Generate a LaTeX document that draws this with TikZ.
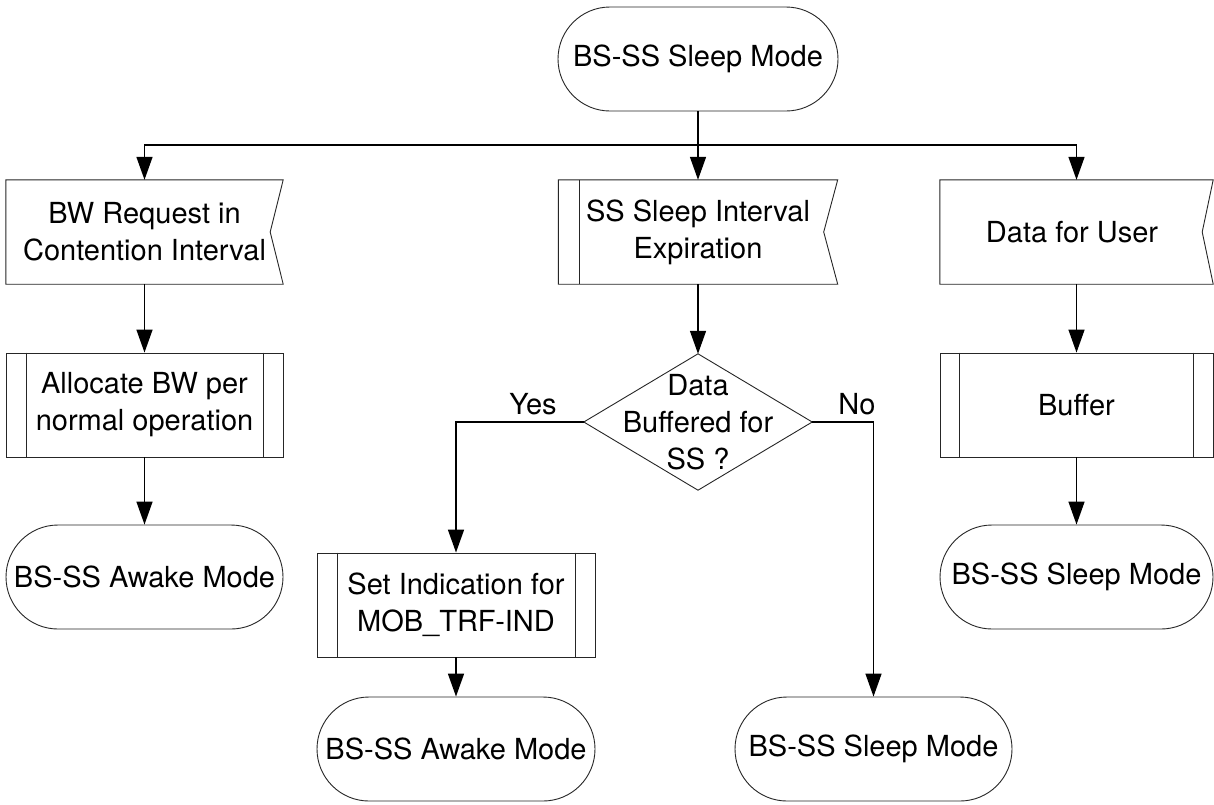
\documentclass[tikz,border=0pt]{standalone}
\usepackage{fontspec}
\setmainfont{TeX Gyre Heros}
\usetikzlibrary{arrows.meta}
\begin{document}
\begin{tikzpicture}[x=1pt,y=-1pt,
  every node/.style={font=\fontsize{29}{37}\selectfont, align=center, inner sep=0pt},
  shp/.style={line width=0.9pt, draw=black!85},
  term/.style={shp, rectangle, rounded corners=52pt, minimum width=277pt, minimum height=104pt},
  boxx/.style={rectangle, minimum width=277pt, minimum height=104pt},
  proc/.style={boxx, shp},
  arr/.style={line width=1.5pt, -{Triangle[length=23pt,width=16pt]}},
  lin/.style={line width=1.5pt}
]
\useasboundingbox (0,0) rectangle (1214,804);
\fill[white] (0,0) rectangle (1214,804);

% top terminal
\node[term, minimum width=280pt] (top) at (698,59) {BS-SS Sleep Mode};

% signal boxes (flags)
\node[boxx] (b1) at (144.5,232) {BW Request in\\Contention Interval};
\node[boxx, minimum width=279pt] (b2) at (698,232) {SS Sleep Interval\\Expiration};
\node[boxx, minimum width=273pt] (b3) at (1076.5,232) {};
\node (b3text) at (1072,232) {Data for User};

\draw[shp] (b1.north west) -- (b1.north east) -- ([xshift=-13pt]b1.east) -- (b1.south east) -- (b1.south west) -- cycle;
\draw[shp] (b2.north west) -- (b2.north east) -- ([xshift=-14pt]b2.east) -- (b2.south east) -- (b2.south west) -- cycle;
\draw[shp] ([xshift=21pt]b2.north west) -- ([xshift=21pt]b2.south west);
\draw[shp] (b3.north west) -- (b3.north east) -- ([xshift=-11pt]b3.east) -- (b3.south east) -- (b3.south west) -- cycle;

% left column
\node[proc] (a1) at (144.5,405) {Allocate BW per\\normal operation};
\draw[shp] ([xshift=21pt]a1.north west) -- ([xshift=21pt]a1.south west);
\draw[shp] ([xshift=-20pt]a1.north east) -- ([xshift=-20pt]a1.south east);
\node[term] (t1) at (144.5,577) {BS-SS Awake Mode};

% middle column
\node[boxx, minimum width=228pt, minimum height=136pt] (dia) at (698,422) {Data\\Buffered for\\SS ?};
\draw[shp] (dia.north) -- (dia.east) -- (dia.south) -- (dia.west) -- cycle;

\node[proc, minimum width=278pt] (s1) at (456,605) {Set Indication for\\MOB\_TRF-IND};
\draw[shp] ([xshift=21pt]s1.north west) -- ([xshift=21pt]s1.south west);
\draw[shp] ([xshift=-20pt]s1.north east) -- ([xshift=-20pt]s1.south east);
\node[term, minimum width=278pt] (t2) at (456,749) {BS-SS Awake Mode};
\node[term] (t3) at (873.5,749) {BS-SS Sleep Mode};

% right column
\node[proc, minimum width=273pt] (buf) at (1076.5,405) {Buffer};
\draw[shp] ([xshift=20pt]buf.north west) -- ([xshift=20pt]buf.south west);
\draw[shp] ([xshift=-20pt]buf.north east) -- ([xshift=-20pt]buf.south east);
\node[term, minimum width=273pt] (t4) at (1076.5,577) {BS-SS Sleep Mode};

% labels
\node (yes) at (533,404) {Yes};
\node (no) at (857,404) {No};

% connectors
\coordinate (split) at (698,145);
\draw[lin] (top.south) -- (split);
\draw[arr] (split) -| (b1.north);
\draw[arr] (split) -- (b2.north);
\draw[arr] (split) -| (b3.north);

\draw[arr] (b1.south) -- (a1.north);
\draw[arr] (a1.south) -- (t1.north);

\draw[arr] (b2.south) -- (dia.north);
\draw[arr] (dia.west) -| (s1.north);
\draw[arr] (dia.east) -| (t3.north);
\draw[arr] (s1.south) -- (t2.north);

\draw[arr] (b3.south) -- (buf.north);
\draw[arr] (buf.south) -- (t4.north);
\end{tikzpicture}
\end{document}
